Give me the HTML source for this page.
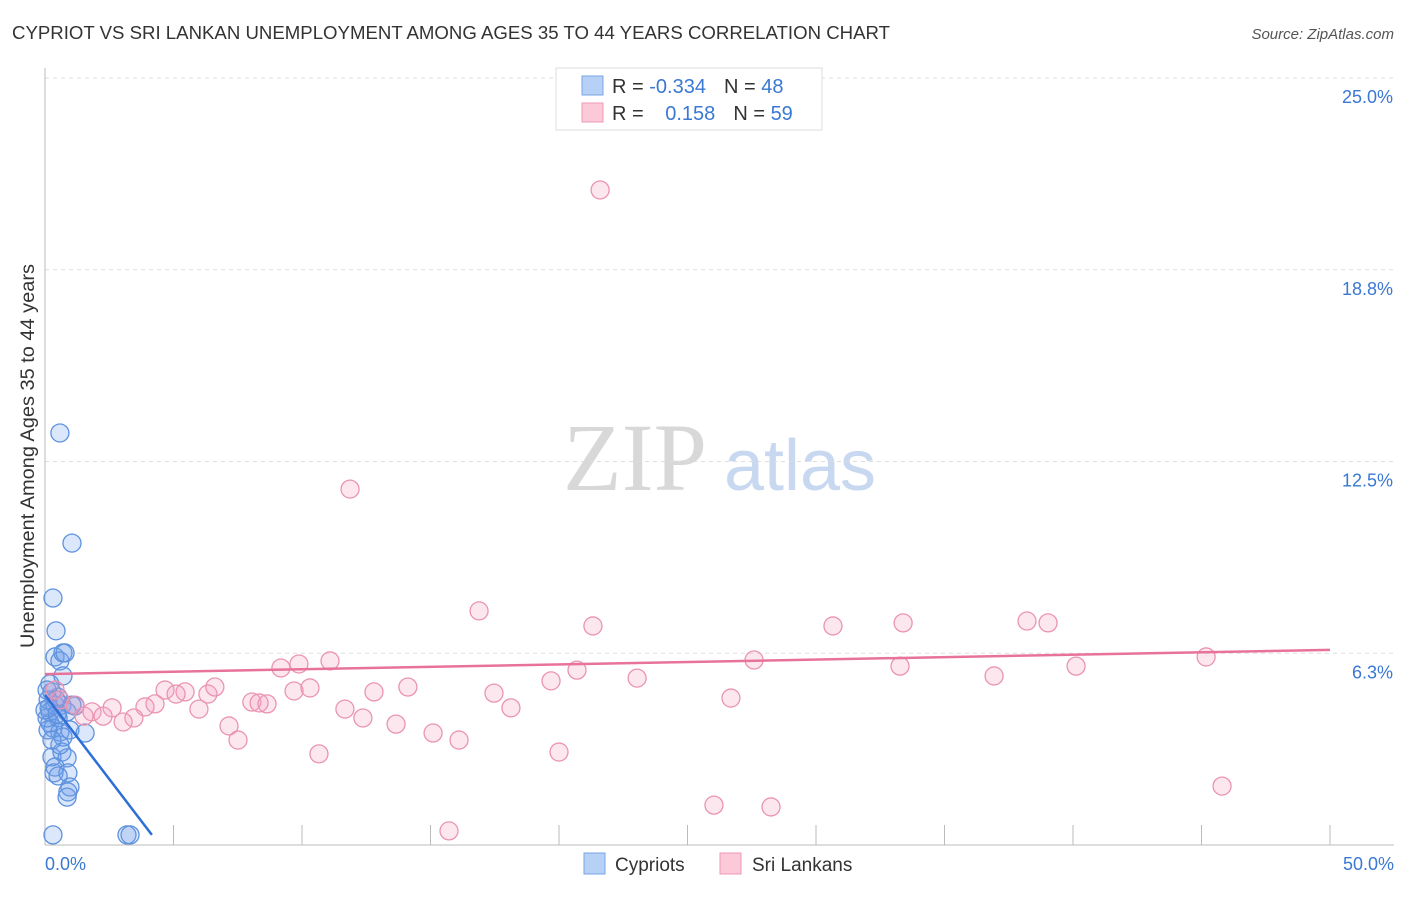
<!DOCTYPE html>
<html><head><meta charset="utf-8"><style>
body{margin:0;background:#fff;font-family:"Liberation Sans",sans-serif;}
</style></head><body>
<svg width="1406" height="892" xmlns="http://www.w3.org/2000/svg">
<text x="12" y="39" font-size="18" fill="#333" textLength="878" lengthAdjust="spacingAndGlyphs">CYPRIOT VS SRI LANKAN UNEMPLOYMENT AMONG AGES 35 TO 44 YEARS CORRELATION CHART</text>
<text x="1394" y="39" font-size="15" fill="#555" font-style="italic" text-anchor="end">Source: ZipAtlas.com</text>
<g>
<text x="635" y="490" font-size="96" font-family="Liberation Serif,serif" fill="#d8d8d8" text-anchor="middle">ZIP</text>
<text x="800" y="490" font-size="72" fill="#c8d8f0" text-anchor="middle">atlas</text>
</g>
<g id="grid"></g>
<g id="axes"></g>
<g id="pts"></g>
<g id="lines"></g>
<text transform="translate(34,456) rotate(-90)" font-size="19" fill="#333" text-anchor="middle" textLength="384" lengthAdjust="spacingAndGlyphs">Unemployment Among Ages 35 to 44 years</text>
<text x="45" y="870" font-size="18" fill="#3a78d4">0.0%</text>
<text x="1394" y="870" font-size="18" fill="#3a78d4" text-anchor="end">50.0%</text>
<g>
<rect x="556" y="68" width="266" height="62" fill="#fff" stroke="#ddd"/>
<rect x="582" y="76" width="21" height="19" fill="#b7d0f5" stroke="#7aa6e8"/>
<rect x="582" y="103" width="21" height="19" fill="#fbc9d8" stroke="#ef9ab6"/>
<text x="612" y="93" font-size="20" fill="#333">R = <tspan fill="#3a78d4">-0.334</tspan><tspan dx="18">N = </tspan><tspan fill="#3a78d4">48</tspan></text>
<text x="612" y="120" font-size="20" fill="#333">R = <tspan fill="#3a78d4" dx="16">0.158</tspan><tspan dx="18">N = </tspan><tspan fill="#3a78d4">59</tspan></text>
</g>
<g>
<rect x="584" y="853" width="21" height="21" fill="#b7d0f5" stroke="#7aa6e8"/>
<text x="615" y="871" font-size="19" fill="#333">Cypriots</text>
<rect x="720" y="853" width="21" height="21" fill="#fbc9d8" stroke="#ef9ab6"/>
<text x="752" y="871" font-size="19" fill="#333">Sri Lankans</text>
</g>
</svg>
<script>
const yTicks=[6.25,12.5,18.75,25];
const yTickLabels=["6.3%","12.5%","18.8%","25.0%"];
const xTicks=[0,5,10,15,20,25,30,35,40,45,50];
const cypX=[0.58,1.05,0.31,0.43,0.39,0.58,0.70,0.78,0.19,0.70,0.27,0.51,0.12,0.39,0.66,0.19,0.86,1.17,0.51,0.19,0.31,0.58,0.97,1.56,0.12,0.70,0.27,0.66,0.86,0.39,0.35,0.89,0.51,0.97,0.89,0.86,0.31,3.19,3.31,0.08,0.16,0.43,0.0,0.08,1.05,0.58,0.27,0.47];
const cypY=[13.43,9.84,8.05,6.98,6.13,6.00,6.26,6.26,5.25,5.51,4.99,4.82,4.73,4.56,4.56,4.34,4.34,4.53,4.14,3.98,3.81,3.68,3.75,3.65,3.75,3.52,2.87,3.03,2.84,2.54,2.35,2.35,2.25,1.89,1.73,1.56,0.33,0.33,0.33,4.14,4.47,4.73,4.40,5.05,4.56,3.26,3.42,4.27];
const sriX=[21.60,11.87,16.89,21.32,30.66,33.39,38.21,39.03,45.18,27.59,20.70,11.09,9.88,9.18,33.27,40.12,36.93,23.04,19.69,14.12,10.31,9.69,17.47,12.80,4.67,5.45,5.10,6.34,6.61,26.69,8.05,8.64,8.33,4.28,3.89,5.99,2.61,1.17,11.67,18.13,1.83,1.52,2.26,3.46,12.37,3.04,13.66,7.16,15.10,7.51,16.11,10.66,20.00,26.03,28.25,45.80,15.72,0.39,0.58];
const sriY=[21.35,11.60,7.63,7.14,7.14,7.24,7.30,7.24,6.13,6.03,5.70,6.00,5.90,5.77,5.83,5.83,5.51,5.44,5.35,5.15,5.12,5.02,4.95,4.99,5.05,4.99,4.92,4.92,5.15,4.79,4.66,4.60,4.63,4.60,4.50,4.43,4.47,4.56,4.43,4.47,4.34,4.20,4.20,4.14,4.14,4.01,3.94,3.88,3.65,3.42,3.42,2.97,3.03,1.30,1.24,1.92,0.46,5.05,4.73];
const cypTrendX=[0,4.16];
const cypTrendY=[4.89,0.33];
const sriTrendX=[0,50];
const sriTrendY=[5.57,6.36];
const NS="http://www.w3.org/2000/svg";
const X=v=>45+v*25.7, Y=v=>845-v*30.68;
function mk(t,a,p){const e=document.createElementNS(NS,t);for(const k in a)e.setAttribute(k,a[k]);p.appendChild(e);return e;}
const grid=document.getElementById('grid'),axes=document.getElementById('axes'),pts=document.getElementById('pts'),lines=document.getElementById('lines');
yTicks.forEach((v,i)=>{
 const l=mk('line',{x1:45,x2:1394,y1:Y(v),y2:Y(v),stroke:'#ddd','stroke-dasharray':'4,4'},grid);
 
 
 const t=mk('text',{x:1393,y:Y(v)+25,'font-size':18,fill:'#3a78d4','text-anchor':'end'},grid);
 t.textContent=yTickLabels[i];
 
 
});
const ya=mk('line',{x1:45,x2:45,y1:68,y2:845,stroke:'#bbb'},axes);


const xa=mk('line',{x1:45,x2:1394,y1:845,y2:845,stroke:'#bbb'},axes);


xTicks.forEach(v=>{
 const t=mk('line',{x1:X(v),x2:X(v),y1:825,y2:845,stroke:'#bbb'},axes);
 
 
});
cypX.forEach((v,i)=>{
 const c=mk('circle',{cx:X(v),cy:Y(cypY[i]),r:9,fill:'rgba(110,160,235,0.25)',stroke:'#5f92de','stroke-width':1.3},pts);
 
 
});
sriX.forEach((v,i)=>{
 const c=mk('circle',{cx:X(v),cy:Y(sriY[i]),r:9,fill:'rgba(245,160,190,0.25)',stroke:'#ea94b2','stroke-width':1.3},pts);
 
 
});
const l1=mk('line',{x1:X(sriTrendX[0]),y1:Y(sriTrendY[0]),x2:X(sriTrendX[1]),y2:Y(sriTrendY[1]),stroke:'#e8739a','stroke-width':2.5},lines);


const l2=mk('line',{x1:X(cypTrendX[0]),y1:Y(cypTrendY[0]),x2:X(cypTrendX[1]),y2:Y(cypTrendY[1]),stroke:'#2d6fd6','stroke-width':2.5},lines);


</script>
</body></html>
